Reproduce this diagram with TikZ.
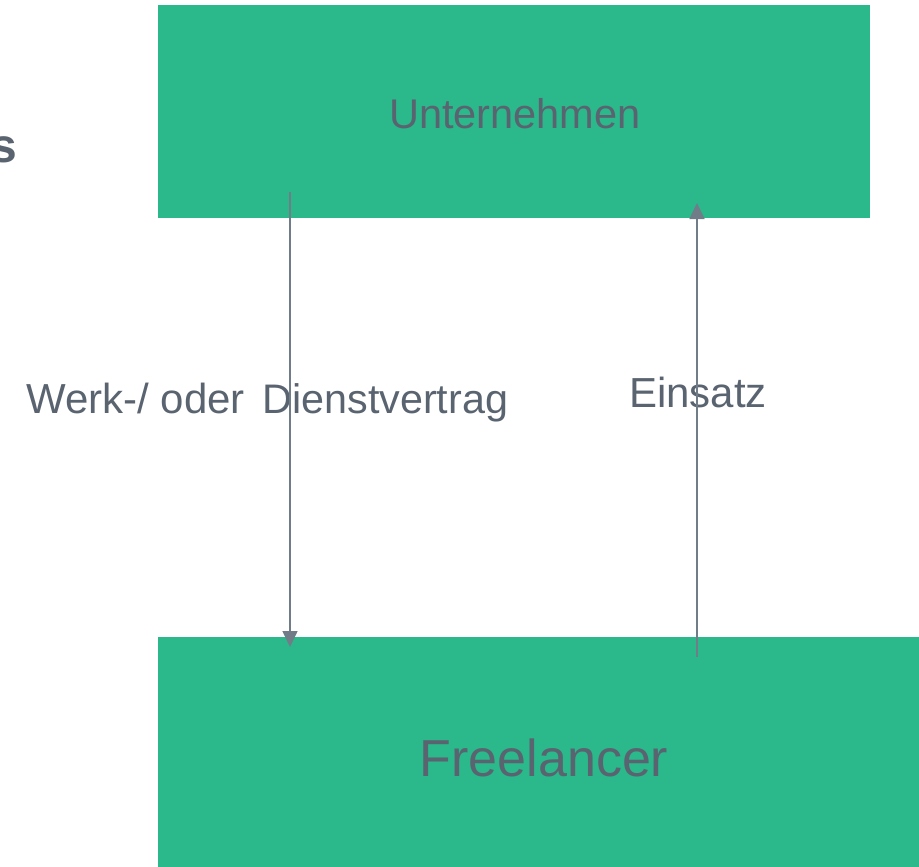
\documentclass[tikz,border=0pt]{standalone}
\usepackage{fontspec}
\setmainfont{Liberation Sans}
\usetikzlibrary{arrows.meta}
\definecolor{boxgreen}{HTML}{2BB88B}
\definecolor{txtgray}{HTML}{5A6470}
\definecolor{linegray}{HTML}{707C88}
\tikzset{
  greenbox/.style={fill=boxgreen, draw=none, inner sep=0pt, anchor=north west},
  lbl/.style={text=txtgray, inner sep=0pt},
  conn/.style={draw=linegray, line width=1.6pt, -{Triangle[width=15pt,length=16pt]}}
}
\begin{document}
\begin{tikzpicture}[x=1pt,y=-1pt]
\useasboundingbox (0,0) rectangle (919,867);
\node[greenbox, minimum width=712pt, minimum height=213pt] (top) at (158,5) {};
\node[greenbox, minimum width=761pt, minimum height=230pt] (bot) at (158,637) {};
\node[lbl, font=\fontsize{41.5}{41.5}\selectfont] (unt) at (515,114) {Unternehmen};
\node[lbl, font=\fontsize{52}{52}\selectfont] (free) at (544,758) {Freelancer};
\node[lbl, font=\fontsize{42}{42}\selectfont, anchor=west] (werk) at (26,403) {Werk-/ oder\hspace{0.42em}{\fontsize{41.3}{41.3}\selectfont Dienstvertrag}};
\node[lbl, font=\fontsize{42}{42}\selectfont, anchor=west] (ein) at (629,392) {Einsatz};
\node[lbl, font=\bfseries\fontsize{48}{48}\selectfont, anchor=east] (s) at (17,150) {s};
\coordinate (a1s) at (290,192);
\coordinate (a1e) at (290,647);
\coordinate (a2s) at (697,657);
\coordinate (a2e) at (697,203);
\draw[conn] (a1s) -- (a1e);
\draw[conn] (a2s) -- (a2e);
\end{tikzpicture}
\end{document}
